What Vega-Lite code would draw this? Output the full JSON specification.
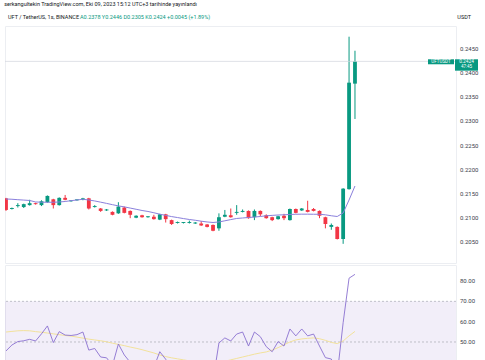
{
 "$schema": "https://vega.github.io/schema/vega-lite/v6.json",
 "padding": {"left": 4, "top": 2, "right": 0, "bottom": 0},
 "background": "white",
 "config": {
   "font": "Roboto",
   "view": {"stroke": "#eceef2"},
   "title": {"fontWeight": "normal", "fontSize": 5.5, "color": "#131722", "anchor": "start", "offset": 2, "font": "Roboto"}
 },
 "title": {"text": "serkangultekin TradingView.com, Eki 09, 2023 15:12 UTC+3 tarihinde yayınlandı", "fontSize": 5.5, "color": "#131722", "anchor": "start", "offset": 7},
 "datasets": {
  "priceTicks": [{"t": 0.205}, {"t": 0.21}, {"t": 0.215}, {"t": 0.22}, {"t": 0.225}, {"t": 0.23}, {"t": 0.235}, {"t": 0.24}, {"t": 0.245}],
  "rsiTicks": [{"t": 50}, {"t": 60}, {"t": 70}, {"t": 80}],
  "c": [
   {"i":0,"o":0.2141,"h":0.2142,"l":0.2115,"c":0.2117,"ma":0.21397,"rsi":45.6,"rm":54.9},
   {"i":1,"o":0.2119,"h":0.2122,"l":0.2118,"c":0.2121,"ma":0.21391,"rsi":48.5,"rm":55.2},
   {"i":2,"o":0.2125,"h":0.2131,"l":0.2122,"c":0.2127,"ma":0.21382,"rsi":50.2,"rm":55.5},
   {"i":3,"o":0.2123,"h":0.2130,"l":0.2121,"c":0.2129,"ma":0.21374,"rsi":50.6,"rm":55.6},
   {"i":4,"o":0.2127,"h":0.2138,"l":0.2126,"c":0.2131,"ma":0.21366,"rsi":51.3,"rm":55.5},
   {"i":5,"o":0.2131,"h":0.2132,"l":0.2128,"c":0.2129,"ma":0.21335,"rsi":50.5,"rm":55.1},
   {"i":6,"o":0.2127,"h":0.2137,"l":0.2125,"c":0.2135,"ma":0.21331,"rsi":54.0,"rm":54.8},
   {"i":7,"o":0.2133,"h":0.2147,"l":0.2132,"c":0.2146,"ma":0.21329,"rsi":57.9,"rm":54.4},
   {"i":8,"o":0.2139,"h":0.2140,"l":0.2120,"c":0.2127,"ma":0.21329,"rsi":49.7,"rm":54.0},
   {"i":9,"o":0.2127,"h":0.2143,"l":0.2126,"c":0.2142,"ma":0.21335,"rsi":55.1,"rm":53.6},
   {"i":10,"o":0.2142,"h":0.2148,"l":0.2137,"c":0.2138,"ma":0.21345,"rsi":53.4,"rm":53.2},
   {"i":11,"o":0.2135,"h":0.2137,"l":0.2134,"c":0.2137,"ma":0.21362,"rsi":53.2,"rm":52.9},
   {"i":12,"o":0.2137,"h":0.2138,"l":0.2136,"c":0.2139,"ma":0.21376,"rsi":53.6,"rm":52.4},
   {"i":13,"o":0.2138,"h":0.2142,"l":0.2137,"c":0.2141,"ma":0.21391,"rsi":54.9,"rm":51.9},
   {"i":14,"o":0.2141,"h":0.2142,"l":0.2118,"c":0.2120,"ma":0.21376,"rsi":46.0,"rm":51.4},
   {"i":15,"o":0.2123,"h":0.2127,"l":0.2122,"c":0.2125,"ma":0.21356,"rsi":46.8,"rm":51.0},
   {"i":16,"o":0.2120,"h":0.2121,"l":0.2113,"c":0.2115,"ma":0.21331,"rsi":42.6,"rm":50.6},
   {"i":17,"o":0.2116,"h":0.2119,"l":0.2115,"c":0.2118,"ma":0.21306,"rsi":42.2,"rm":50.1},
   {"i":18,"o":0.2113,"h":0.2114,"l":0.2106,"c":0.2107,"ma":0.21279,"rsi":38.5,"rm":49.4},
   {"i":19,"o":0.2110,"h":0.2133,"l":0.2109,"c":0.2124,"ma":0.21254,"rsi":49.0,"rm":48.8},
   {"i":20,"o":0.2122,"h":0.2124,"l":0.2110,"c":0.2111,"ma":0.21234,"rsi":43.6,"rm":48.2},
   {"i":21,"o":0.2115,"h":0.2116,"l":0.2100,"c":0.2107,"ma":0.21209,"rsi":40.0,"rm":47.5},
   {"i":22,"o":0.2101,"h":0.2106,"l":0.2100,"c":0.2105,"ma":0.21184,"rsi":40.5,"rm":46.9},
   {"i":23,"o":0.2106,"h":0.2107,"l":0.2101,"c":0.2102,"ma":0.21159,"rsi":39.0,"rm":46.2},
   {"i":24,"o":0.2102,"h":0.2104,"l":0.2101,"c":0.2104,"ma":0.21139,"rsi":39.5,"rm":45.4},
   {"i":25,"o":0.2103,"h":0.2107,"l":0.2097,"c":0.2098,"ma":0.21112,"rsi":37.5,"rm":44.6},
   {"i":26,"o":0.2097,"h":0.2109,"l":0.2096,"c":0.2108,"ma":0.21083,"rsi":45.2,"rm":43.6},
   {"i":27,"o":0.2108,"h":0.2109,"l":0.2091,"c":0.2098,"ma":0.21058,"rsi":41.5,"rm":42.8},
   {"i":28,"o":0.2096,"h":0.2097,"l":0.2086,"c":0.2088,"ma":0.21033,"rsi":36.5,"rm":42.2},
   {"i":29,"o":0.2090,"h":0.2093,"l":0.2089,"c":0.2092,"ma":0.21013,"rsi":37.5,"rm":41.7},
   {"i":30,"o":0.2090,"h":0.2092,"l":0.2089,"c":0.2092,"ma":0.20992,"rsi":37.5,"rm":41.2},
   {"i":31,"o":0.2090,"h":0.2095,"l":0.2089,"c":0.2092,"ma":0.20973,"rsi":37.8,"rm":40.7},
   {"i":32,"o":0.2089,"h":0.2092,"l":0.2088,"c":0.2091,"ma":0.20957,"rsi":37.5,"rm":40.3},
   {"i":33,"o":0.2089,"h":0.2094,"l":0.2084,"c":0.2085,"ma":0.20938,"rsi":35.0,"rm":40.0},
   {"i":34,"o":0.2087,"h":0.2088,"l":0.2081,"c":0.2082,"ma":0.20922,"rsi":34.0,"rm":39.8},
   {"i":35,"o":0.2086,"h":0.2087,"l":0.2073,"c":0.2074,"ma":0.20911,"rsi":31.0,"rm":39.8},
   {"i":36,"o":0.2079,"h":0.2110,"l":0.2074,"c":0.2102,"ma":0.20922,"rsi":49.5,"rm":40.0},
   {"i":37,"o":0.2103,"h":0.2117,"l":0.2102,"c":0.2107,"ma":0.20946,"rsi":52.0,"rm":40.5},
   {"i":38,"o":0.2106,"h":0.2120,"l":0.2101,"c":0.2102,"ma":0.20971,"rsi":50.5,"rm":41.2},
   {"i":39,"o":0.2111,"h":0.2127,"l":0.2107,"c":0.2113,"ma":0.20994,"rsi":53.9,"rm":41.9},
   {"i":40,"o":0.2113,"h":0.2118,"l":0.2112,"c":0.2115,"ma":0.21004,"rsi":54.9,"rm":42.6},
   {"i":41,"o":0.2115,"h":0.2116,"l":0.2099,"c":0.2100,"ma":0.21015,"rsi":48.0,"rm":43.3},
   {"i":42,"o":0.2102,"h":0.2118,"l":0.2096,"c":0.2115,"ma":0.21023,"rsi":54.9,"rm":44.0},
   {"i":43,"o":0.2115,"h":0.2116,"l":0.2104,"c":0.2108,"ma":0.21035,"rsi":52.6,"rm":44.6},
   {"i":44,"o":0.2106,"h":0.2108,"l":0.2099,"c":0.2100,"ma":0.21050,"rsi":47.7,"rm":45.1},
   {"i":45,"o":0.2102,"h":0.2103,"l":0.2094,"c":0.2096,"ma":0.21058,"rsi":45.2,"rm":46.0},
   {"i":46,"o":0.2098,"h":0.2105,"l":0.2097,"c":0.2104,"ma":0.21066,"rsi":50.2,"rm":47.2},
   {"i":47,"o":0.2105,"h":0.2109,"l":0.2096,"c":0.2100,"ma":0.21070,"rsi":48.0,"rm":48.6},
   {"i":48,"o":0.2096,"h":0.2120,"l":0.2095,"c":0.2119,"ma":0.21077,"rsi":56.4,"rm":50.0},
   {"i":49,"o":0.2119,"h":0.2120,"l":0.2110,"c":0.2111,"ma":0.21081,"rsi":53.0,"rm":51.0},
   {"i":50,"o":0.2116,"h":0.2121,"l":0.2115,"c":0.2120,"ma":0.21083,"rsi":56.4,"rm":51.5},
   {"i":51,"o":0.2117,"h":0.2136,"l":0.2112,"c":0.2113,"ma":0.21083,"rsi":53.0,"rm":51.8},
   {"i":52,"o":0.2119,"h":0.2121,"l":0.2114,"c":0.2115,"ma":0.21081,"rsi":53.9,"rm":52.0},
   {"i":53,"o":0.2115,"h":0.2116,"l":0.2100,"c":0.2105,"ma":0.21081,"rsi":48.0,"rm":51.6},
   {"i":54,"o":0.2102,"h":0.2103,"l":0.2079,"c":0.2088,"ma":0.21070,"rsi":42.3,"rm":50.8},
   {"i":55,"o":0.2082,"h":0.2089,"l":0.2076,"c":0.2086,"ma":0.21050,"rsi":41.6,"rm":49.8},
   {"i":56,"o":0.2082,"h":0.2083,"l":0.2056,"c":0.2057,"ma":0.21035,"rsi":34.0,"rm":49.2},
   {"i":57,"o":0.2057,"h":0.2162,"l":0.2047,"c":0.2161,"ma":0.21108,"rsi":59.5,"rm":50.5},
   {"i":58,"o":0.2160,"h":0.2475,"l":0.2159,"c":0.2380,"ma":0.21376,"rsi":81.4,"rm":53.0},
   {"i":59,"o":0.2378,"h":0.2446,"l":0.2305,"c":0.2424,"ma":0.21665,"rsi":83.3,"rm":55.2}
  ]
 },
 "spacing": 0,
 "vconcat": [
  {
   "spacing": 0,
   "hconcat": [
    {"width": 74, "height": 3, "view": {"stroke": null}, "title": {"text": "UFT / TetherUS, 1s, BINANCE", "dx": 3}, "data": {"values": [{}]}, "mark": {"type": "point", "opacity": 0, "size": 0}},
    {"width": 300, "height": 3, "view": {"stroke": null}, "title": {"text": "A0.2378  Y0.2446  D0.2305  K0.2424  +0.0045 (+1.89%)", "color": "#089981"}, "data": {"values": [{}]}, "mark": {"type": "point", "opacity": 0, "size": 0}},
    {"width": 91, "height": 3, "view": {"stroke": null}, "title": {"text": "USDT", "anchor": "end"}, "data": {"values": [{}]}, "mark": {"type": "point", "opacity": 0, "size": 0}}
   ]
  },
  {
   "width": 451,
   "height": 237,
   "data": {"name": "c"},
   "layer": [
    {"mark": {"type": "rule", "strokeWidth": 1, "clip": true},
     "encoding": {
      "x": {"field": "i", "type": "quantitative", "scale": {"domain": [-0.17, 76.08], "nice": false, "zero": false}, "axis": null},
      "y": {"field": "l", "type": "quantitative", "title": null, "scale": {"domain": [0.20074, 0.24971], "nice": false, "zero": false}, "axis": null},
      "y2": {"field": "h"},
      "color": {"condition": {"test": "datum.c >= datum.o", "value": "#089981"}, "value": "#F23645"}
     }},
    {"mark": {"type": "rule", "strokeWidth": 3.8, "strokeCap": "butt", "clip": true},
     "encoding": {
      "x": {"field": "i", "type": "quantitative"},
      "y": {"field": "o", "type": "quantitative"},
      "y2": {"field": "c"},
      "color": {"condition": {"test": "datum.c >= datum.o", "value": "#089981"}, "value": "#F23645"}
     }},
    {"mark": {"type": "line", "stroke": "#8a80dc", "strokeWidth": 1, "clip": true},
     "encoding": {
      "x": {"field": "i", "type": "quantitative"},
      "y": {"field": "ma", "type": "quantitative"}
     }},
    {"data": {"name": "priceTicks"},
     "mark": {"type": "text", "font": "Roboto", "fontSize": 6, "fill": "#3a3e4a", "align": "left", "baseline": "middle", "dx": 4, "clip": false},
     "encoding": {"x": {"value": "width"}, "y": {"field": "t", "type": "quantitative"}, "text": {"field": "t", "type": "quantitative", "format": ".4f"}}},
    {"transform": [{"filter": "datum.i == 59"}],
     "mark": {"type": "rule", "stroke": "#d1d4dc", "strokeWidth": 0.7},
     "encoding": {"y": {"field": "c", "type": "quantitative"}}},
    {"transform": [{"filter": "datum.i == 59"}],
     "mark": {"type": "point", "shape": "M-2.8,-0.21H-0.2V0.29H-2.8Z", "size": 400, "filled": true, "fill": "#089981", "opacity": 1, "strokeWidth": 0, "clip": false},
     "encoding": {"x": {"value": "width"}, "y": {"field": "c", "type": "quantitative"}}},
    {"transform": [{"filter": "datum.i == 59"}],
     "mark": {"type": "point", "shape": "M-0.1,-0.21H2.2V0.93H-0.1Z", "size": 400, "filled": true, "fill": "#089981", "opacity": 1, "strokeWidth": 0, "clip": false},
     "encoding": {"x": {"value": "width"}, "y": {"field": "c", "type": "quantitative"}}},
    {"transform": [{"filter": "datum.i == 59"}],
     "mark": {"type": "text", "fontSize": 4.5, "fill": "white", "align": "center", "baseline": "middle", "dx": -15, "dy": 0.5},
     "encoding": {"x": {"value": "width"}, "y": {"field": "c", "type": "quantitative"}, "text": {"value": "UFTUSDT"}}},
    {"transform": [{"filter": "datum.i == 59"}],
     "mark": {"type": "text", "fontSize": 4.8, "fill": "white", "align": "center", "baseline": "middle", "dx": 10.5, "dy": 0.5},
     "encoding": {"x": {"value": "width"}, "y": {"field": "c", "type": "quantitative"}, "text": {"field": "c", "type": "quantitative", "format": ".4f"}}},
    {"transform": [{"filter": "datum.i == 59"}],
     "mark": {"type": "text", "fontSize": 4.5, "fill": "white", "align": "center", "baseline": "middle", "dx": 10.5, "dy": 6},
     "encoding": {"x": {"value": "width"}, "y": {"field": "c", "type": "quantitative"}, "text": {"value": "47:45"}}}
   ]
  },
  {
   "width": 451,
   "height": 95,
   "layer": [
    {"data": {"values": [{"lo": 30, "hi": 70}]},
     "mark": {"type": "rect", "fill": "#7e57c2", "opacity": 0.1, "clip": true},
     "encoding": {
      "y": {"field": "hi", "type": "quantitative", "title": null, "scale": {"domain": [41.13, 87.9], "nice": false, "zero": false}, "axis": null},
      "y2": {"field": "lo"}
     }},
    {"data": {"values": [{"lvl": 70}, {"lvl": 50}, {"lvl": 30}]},
     "mark": {"type": "rule", "stroke": "#9598a1", "strokeWidth": 0.8, "strokeDash": [2, 2], "opacity": 0.7, "clip": true},
     "encoding": {"y": {"field": "lvl", "type": "quantitative"}}},
    {"data": {"name": "rsiTicks"},
     "mark": {"type": "text", "font": "Roboto", "fontSize": 6, "fill": "#3a3e4a", "align": "left", "baseline": "middle", "dx": 4, "clip": false},
     "encoding": {"x": {"value": "width"}, "y": {"field": "t", "type": "quantitative"}, "text": {"field": "t", "type": "quantitative", "format": ".2f"}}},
    {"data": {"name": "c"},
     "mark": {"type": "line", "stroke": "#f2e29b", "strokeWidth": 1, "clip": true},
     "encoding": {
      "x": {"field": "i", "type": "quantitative", "scale": {"domain": [-0.17, 76.08], "nice": false, "zero": false}, "axis": null},
      "y": {"field": "rm", "type": "quantitative"}
     }},
    {"data": {"name": "c"},
     "mark": {"type": "line", "stroke": "#8a70d0", "strokeWidth": 0.9, "clip": true},
     "encoding": {
      "x": {"field": "i", "type": "quantitative"},
      "y": {"field": "rsi", "type": "quantitative"}
     }}
   ]
  }
 ]
}
